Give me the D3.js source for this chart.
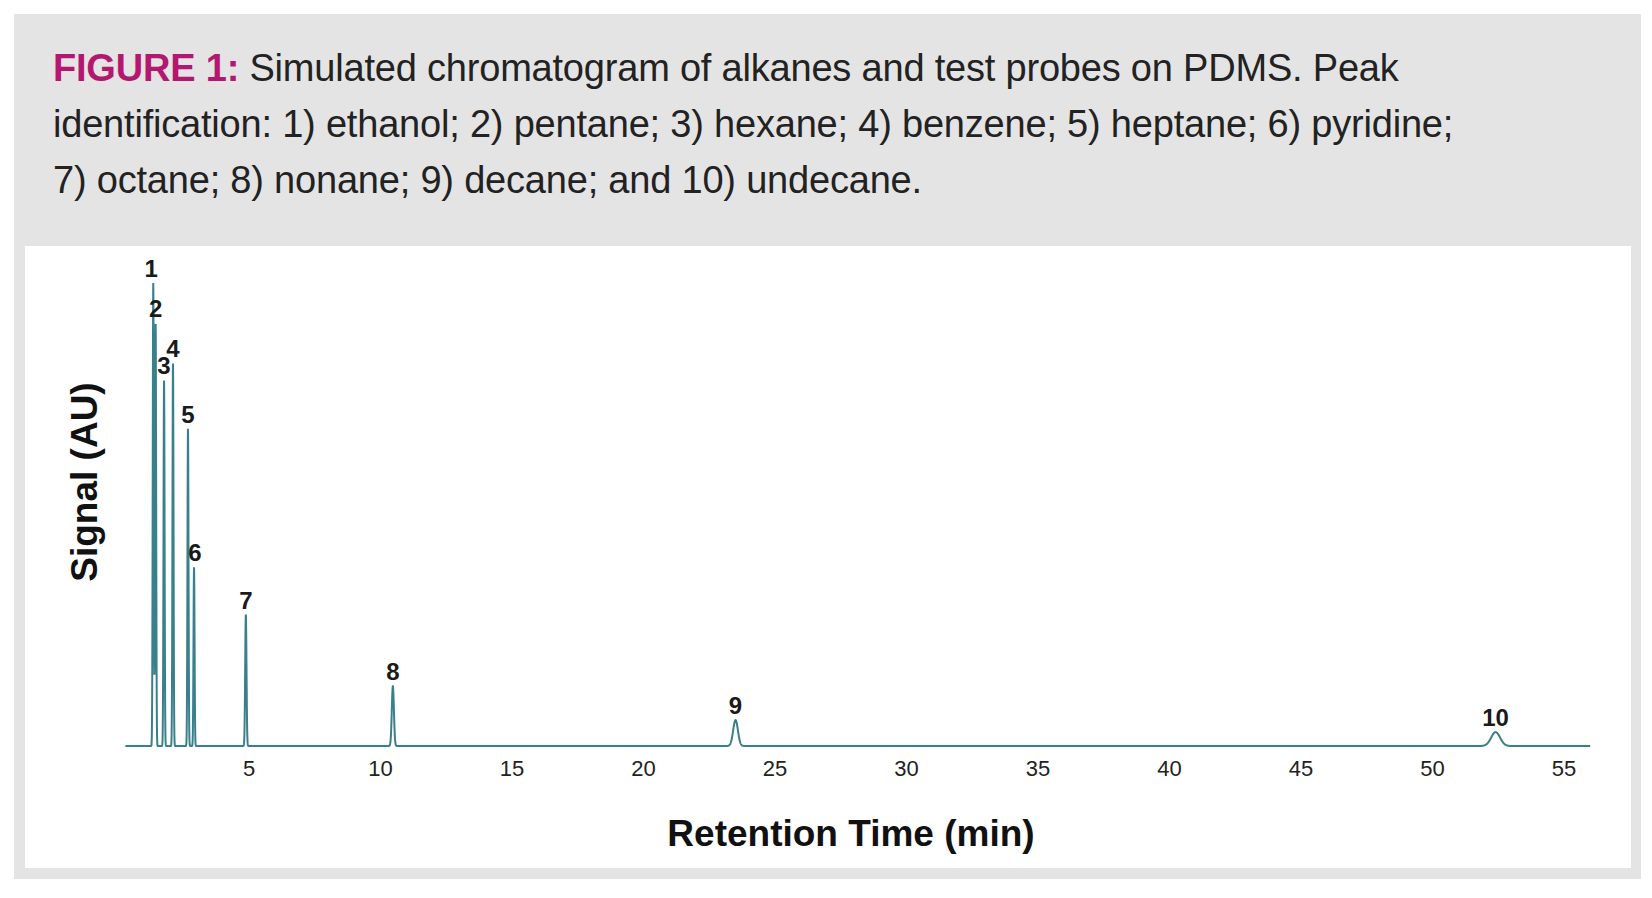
<!DOCTYPE html><html><head><meta charset="utf-8"><script src="https://cdn.jsdelivr.net/npm/d3@7"></script>
<style>body{margin:0;background:#fff;font-family:"Liberation Sans",Arial,sans-serif}</style></head><body><svg id="c" width="1652" height="898"></svg>
<script>
const peakLabels=["1","2","3","4","5","6","7","8","9","10"];
const peakTimes=[1.36,1.45,1.77,2.11,2.68,2.91,4.88,10.47,23.5,52.4];
const peakHeights=[100,91.4,79.1,82.8,68.5,38.6,28.4,12.9,5.6,3.0];
const peakWidths=[0.02,0.02,0.02,0.02,0.02,0.02,0.025,0.04,0.09,0.17];
const xTicks=[5,10,15,20,25,30,35,40,45,50,55];
const svg=d3.select("#c");
svg.append("rect").attr("x",14).attr("y",14).attr("width",1627).attr("height",865).attr("fill","#e4e4e4");
svg.append("rect").attr("x",25).attr("y",246).attr("width",1606).attr("height",622).attr("fill","#fff");
const cap=[[["FIGURE 1: ",true],["Simulated chromatogram of alkanes and test probes on PDMS. Peak",false]],
[["identification: 1) ethanol; 2) pentane; 3) hexane; 4) benzene; 5) heptane; 6) pyridine;",false]],
[["7) octane; 8) nonane; 9) decane; and 10) undecane.",false]]];
cap.forEach((ln,i)=>{const t=svg.append("text").attr("x",53).attr("y",81+i*56).attr("font-size",38).attr("fill","#222").attr("letter-spacing",-0.2);
ln.forEach(([s,b])=>t.append("tspan").text(s).attr("font-weight",b?"bold":"normal").attr("fill",b?"#b3176f":"#222"));});
const x=d3.scaleLinear().domain([0,55]).range([117.5,117.5+55*26.3]);
const y=d3.scaleLinear().domain([0,100]).range([746,283]);
const g=svg.append("g");
g.selectAll(".tk").data(xTicks).join("text").attr("x",d=>x(d)).attr("y",776).attr("text-anchor","middle").attr("font-size",22).attr("fill","#222").text(d=>d);
const ts=d3.range(0.3,56.0,0.004);
const sig=t=>peakTimes.reduce((s,p,i)=>s+peakHeights[i]*Math.exp(-0.5*((t-p)/peakWidths[i])**2),0);
g.append("path").datum(ts).attr("fill","none").attr("stroke","#3a7f8c").attr("stroke-width",2)
 .attr("d",d3.line().x(t=>x(t)).y(t=>y(sig(t))));
g.selectAll(".pl").data(peakLabels).join("text").attr("x",(d,i)=>x(peakTimes[i])+(i==0?-2:i==5?1:0)).attr("y",(d,i)=>y(peakHeights[i])-6)
 .attr("text-anchor","middle").attr("font-size",24).attr("font-weight","bold").attr("fill","#1a1a1a").text(d=>d);
svg.append("text").attr("x",851).attr("y",846).attr("text-anchor","middle").attr("font-size",37).attr("font-weight","bold").attr("fill","#111").text("Retention Time (min)");
svg.append("text").attr("transform","translate(97,482) rotate(-90)").attr("text-anchor","middle").attr("font-size",37).attr("font-weight","bold").attr("fill","#111").text("Signal (AU)");
</script></body></html>
